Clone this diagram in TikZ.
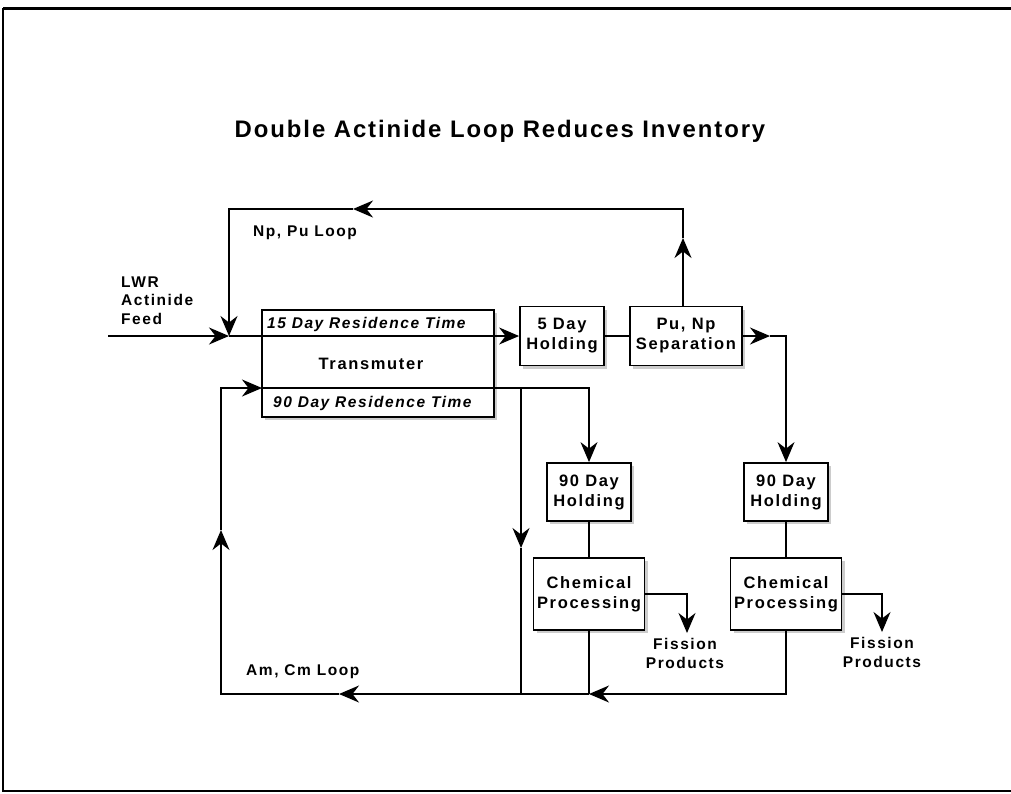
\documentclass[tikz,border=0pt]{standalone}
\usepackage{fontspec}
\setmainfont{Liberation Sans}
\newfontfamily\labfont{Liberation Sans}[LetterSpace=10]
\newfontfamily\titlefont{Liberation Sans}[LetterSpace=8]
\usetikzlibrary{arrows.meta,shadows}

\begin{document}
\begin{tikzpicture}[x=1pt,y=-1pt,
  line/.style={line width=1.5pt},
  arr/.style={line width=1.5pt,-{Stealth[length=20pt,width=17pt,inset=6.5pt]}},
  box/.style={draw,line width=1.8pt,fill=white,inner sep=0pt,align=center,
    drop shadow={shadow xshift=3pt,shadow yshift=-3pt,fill=black!40},
    font=\labfont\bfseries\fontsize{16.5}{20}\selectfont},
  lbl/.style={inner sep=0pt,font=\labfont\bfseries\fontsize{15.5}{18.5}\selectfont},
  boxtext/.style={inner sep=0pt,font=\labfont\bfseries\fontsize{16.5}{20}\selectfont},
]
\useasboundingbox (0,0) rectangle (1011,793);

% page frame
\coordinate (fTL) at (3,8);
\coordinate (fTR) at (1011,8);
\coordinate (fBL) at (3,791);
\coordinate (fBR) at (1011,791);
\draw[line width=3pt] (fTR) -- (fTL);
\draw[line width=2pt] (fTL) -- (fBL) -- (fBR);

% title
\node[inner sep=0pt,anchor=base,font=\titlefont\bfseries\fontsize{23.9}{28}\selectfont]
  (title) at (500,137) {Double Actinide Loop Reduces Inventory};

% process boxes
\node[box,minimum width=232pt,minimum height=107pt] (trans) at (378,363.5) {};
\node[box,minimum width=84pt,minimum height=59pt] (hold5) at (562,336) {5 Day\\Holding};
\node[box,minimum width=112pt,minimum height=59pt] (sep) at (686,336) {Pu, Np\\Separation};
\node[box,minimum width=84pt,minimum height=58pt] (hold90a) at (589,492) {90 Day\\Holding};
\node[box,minimum width=84pt,minimum height=58pt] (hold90b) at (786,492) {90 Day\\Holding};
\node[box,minimum width=111pt,minimum height=72pt] (chema) at (589,594) {Chemical\\Processing};
\node[box,minimum width=111pt,minimum height=72pt] (chemb) at (786,594) {Chemical\\Processing};

% transmuter texts
\node[lbl,anchor=base west] (res15) at (267,328) {\itshape 15 Day Residence Time};
\node[boxtext,anchor=base] (tname) at (371,369) {Transmuter};
\node[lbl,anchor=base west] (res90) at (273,407) {\itshape 90 Day Residence Time};

% free labels (multi-line labels are placed by the baseline of their last line)
\node[lbl,anchor=base west,align=left] (feed) at (121,324) {LWR\\Actinide\\Feed};
\node[lbl,anchor=base west] (nploop) at (253,236) {Np, Pu Loop};
\node[lbl,anchor=base west] (amloop) at (246,675) {Am, Cm Loop};

% connector points
\coordinate (feedS) at (108,336);
\coordinate (jn) at (229,336);
\coordinate (npUp) at (683,238);
\coordinate (npArr) at (353,209);
\coordinate (sepArr) at (770,336);
\coordinate (lowL) at (262,388);
\coordinate (lowBr) at (521,388);
\coordinate (brArr) at (521,548);
\coordinate (botJ) at (589,694);
\coordinate (botArr) at (339,694);
\coordinate (upArr) at (221,530);
\coordinate (fpA) at (687,633);
\coordinate (fpB) at (882,632);

% main flow through the transmuter
\draw[arr] (feedS) -- (jn);
\draw[arr] (jn) -- (hold5.west);
\draw[line] (hold5) -- (sep);
\draw[arr] (sep.east) -- (sepArr);
\draw[arr] (sepArr) -| (hold90b.north);

% Np, Pu loop
\draw[arr] (sep.north -| npUp) -- (npUp);
\draw[arr] (npUp) |- (npArr);
\draw[arr] (npArr) -| (jn);

% 90 day side of the transmuter
\draw[line] (lowL) -- (lowBr);
\draw[arr] (lowBr) -| (hold90a.north);
\draw[arr] (lowBr) -- (brArr);
\draw[line] (brArr) -- (brArr |- botJ);

% holding to processing
\draw[line] (hold90a) -- (chema);
\draw[line] (hold90b) -- (chemb);

% fission products
\draw[arr] (chema.east) -| (fpA);
\draw[arr] (chemb.east) -| (fpB);
\node[lbl,anchor=base,align=center] (fissa) at (685,668) {Fission\\Products};
\node[lbl,anchor=base,align=center] (fissb) at (882,667) {Fission\\Products};

% Am, Cm loop
\draw[arr] (chemb.south) |- (botJ);
\draw[line] (chema.south) -- (botJ);
\draw[arr] (botJ) -- (botArr);
\draw[arr] (botArr) -| (upArr);
\draw[arr] (upArr) |- (lowL);
\end{tikzpicture}
\end{document}
